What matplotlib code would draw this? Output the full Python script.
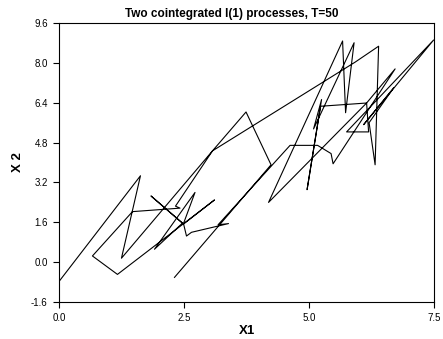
import matplotlib
matplotlib.use("Agg")
import matplotlib.pyplot as plt

# path of (X1, X2), in time order
x1 = [0.00, 1.63, 1.25, 3.07, 5.92, 6.39, 6.32, 6.20, 6.69, 6.09,
      7.49, 5.75, 6.19, 6.15, 4.19, 5.67, 5.73, 5.90, 5.09, 5.25,
      4.96, 5.23, 6.15, 6.72, 5.48, 5.44, 5.17, 4.62, 3.18, 3.39,
      2.65, 2.55, 2.49, 2.72, 1.91, 2.47, 1.84, 2.49, 3.11, 1.17,
      0.67, 1.47, 2.42, 2.33, 3.07, 3.74, 4.24, 2.31]
x2 = [-0.78, 3.47, 0.16, 4.47, 8.03, 8.67, 3.91, 5.60, 7.00, 5.52,
      8.92, 5.23, 5.23, 6.39, 2.40, 8.88, 6.00, 8.81, 5.35, 6.53,
      2.91, 6.26, 6.39, 7.76, 3.95, 4.36, 4.69, 4.69, 1.50, 1.55,
      1.20, 1.05, 1.55, 2.80, 0.52, 1.57, 2.66, 1.53, 2.50, -0.49,
      0.25, 2.03, 2.17, 2.25, 4.47, 6.03, 3.91, -0.61]

x_ticks = [0.0, 2.5, 5.0, 7.5]
y_ticks = [-1.6, 0.0, 1.6, 3.2, 4.8, 6.4, 8.0, 9.6]

plt.rcParams["font.family"] = ["Liberation Sans", "DejaVu Sans"]

fig = plt.figure(figsize=(4.43, 3.39), dpi=100)
ax = fig.add_axes([0.133, 0.109, 0.847, 0.823])

ax.plot(x1, x2, color="black", linewidth=0.8)

ax.set_xlim(0.0, 7.5)
ax.set_ylim(-1.6, 9.6)
ax.set_xticks(x_ticks)
ax.set_xticklabels([f"{v:.1f}" for v in x_ticks])
ax.set_yticks(y_ticks)
ax.set_yticklabels([f"{v:.1f}" for v in y_ticks])
ax.tick_params(direction="out", length=4, width=0.8, labelsize=7, pad=4)

for sp in ax.spines.values():
    sp.set_linewidth(0.8)

ax.set_title("Two cointegrated I(1) processes, T=50", fontsize=8.5,
             fontweight="bold", pad=4, x=0.46)
ax.set_xlabel("X1", fontsize=9.5, fontweight="bold", labelpad=1)
ax.set_ylabel("X 2", fontsize=9.5, fontweight="bold", labelpad=5)

fig.savefig("out.png", dpi=100)
